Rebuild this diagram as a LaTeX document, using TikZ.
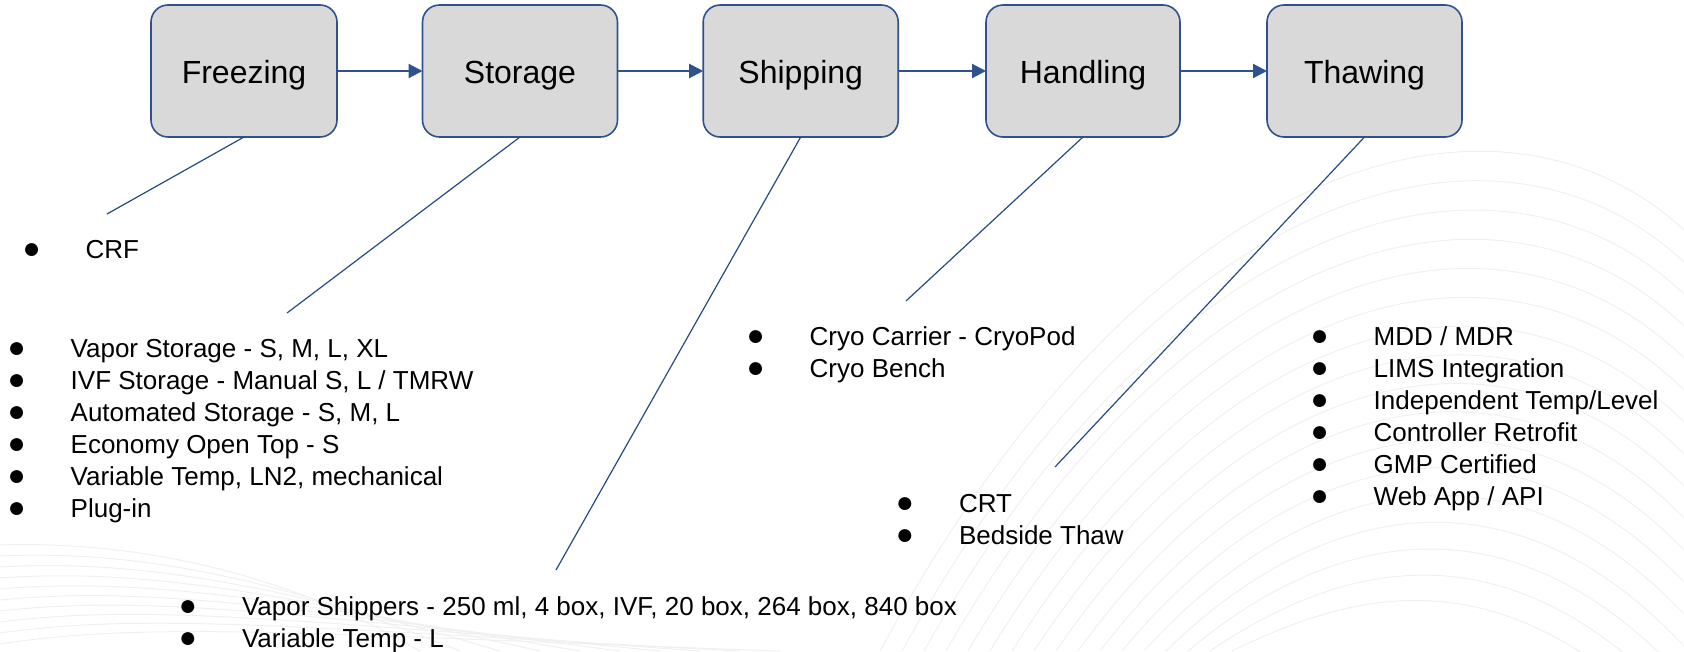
\documentclass[tikz,border=0pt]{standalone}
\usepackage{fontspec}
\setmainfont{Liberation Sans}
\usetikzlibrary{arrows.meta}
\definecolor{boxfill}{RGB}{217,217,217}
\definecolor{navy}{RGB}{47,82,143}
\definecolor{linec}{RGB}{38,74,130}
\definecolor{wave}{RGB}{240,240,240}
\newcommand{\bulitem}[1]{\makebox[0pt][c]{\fontsize{30}{32}\selectfont ●}\hspace{54pt}#1}
\begin{document}
\begin{tikzpicture}[x=1pt,y=-1pt,
  stagebox/.style={draw=navy, line width=1.6pt, fill=boxfill, rounded corners=17pt,
    minimum height=132pt, inner sep=0pt, outer sep=0pt,
    font=\fontsize{32}{38}\selectfont, text height=24pt, text depth=0pt},
  flow/.style={draw=navy, line width=2.2pt, -{Triangle[length=14pt,width=14pt]}},
  link/.style={draw=linec, line width=1.2pt},
  blist/.style={anchor=base west, inner sep=0pt, outer sep=0pt, font=\fontsize{26}{32}\selectfont},
  wavy/.style={draw=wave, line width=1pt}]
\useasboundingbox (0,0) rectangle (1684,651);
% faint background waves
\foreach \i in {0,...,16} {
  \draw[wavy] ({880+22*\i},651) .. controls ({1150+12*\i},{150+28*\i}) and (1500,{60+30*\i}) .. (1684,{230+32*\i});
}
\foreach \i in {0,...,9} {
  \draw[wavy] (0,{545+11*\i}) .. controls (150,{540+9*\i}) and (300,{580+6*\i}) .. ({420+40*\i},651);
}
% stages
\node[stagebox, minimum width=186pt] (freezing) at (244,71) {Freezing};
\node[stagebox, minimum width=195pt] (storage) at (520,71) {Storage};
\node[stagebox, minimum width=195pt] (shipping) at (800.7,71) {Shipping};
\node[stagebox, minimum width=194pt] (handling) at (1083,71) {Handling};
\node[stagebox, minimum width=195pt] (thawing) at (1364.5,71) {Thawing};
\draw[flow] (freezing) -- (storage);
\draw[flow] (storage) -- (shipping);
\draw[flow] (shipping) -- (handling);
\draw[flow] (handling) -- (thawing);
% connector ends
\coordinate (cF) at (107,214);
\coordinate (cS) at (287,313);
\coordinate (cSh) at (556,570);
\coordinate (cH) at (906,301);
\coordinate (cT) at (1055,467);
\draw[link] (freezing.south) -- (cF);
\draw[link] (storage.south) -- (cS);
\draw[link] (shipping.south) -- (cSh);
\draw[link] (handling.south) -- (cH);
\draw[link] (thawing.south) -- (cT);
% lists
\node[blist] (lcrf) at (31.7,258) {\begin{tabular}[t]{@{}l@{}}\bulitem{CRF}\end{tabular}};
\node[blist] (lstor) at (16.7,357) {\begin{tabular}[t]{@{}l@{}}
\bulitem{Vapor Storage - S, M, L, XL}\\
\bulitem{IVF Storage - Manual S, L / TMRW}\\
\bulitem{Automated Storage - S, M, L}\\
\bulitem{Economy Open Top - S}\\
\bulitem{Variable Temp, LN2, mechanical}\\
\bulitem{Plug-in}\end{tabular}};
\node[blist] (lship) at (188,615) {\begin{tabular}[t]{@{}l@{}}
\bulitem{Vapor Shippers - 250 ml, 4 box, IVF, 20 box, 264 box, 840 box}\\
\bulitem{Variable Temp - L}\end{tabular}};
\node[blist] (lhand) at (755.7,345) {\begin{tabular}[t]{@{}l@{}}
\bulitem{Cryo Carrier - CryoPod}\\
\bulitem{Cryo Bench}\end{tabular}};
\node[blist] (lcrt) at (905,512) {\begin{tabular}[t]{@{}l@{}}
\bulitem{CRT}\\
\bulitem{Bedside Thaw}\end{tabular}};
\node[blist] (lthaw) at (1319.7,345) {\begin{tabular}[t]{@{}l@{}}
\bulitem{MDD / MDR}\\
\bulitem{LIMS Integration}\\
\bulitem{Independent Temp/Level}\\
\bulitem{Controller Retrofit}\\
\bulitem{GMP Certified}\\
\bulitem{Web App / API}\end{tabular}};
\end{tikzpicture}
\end{document}
